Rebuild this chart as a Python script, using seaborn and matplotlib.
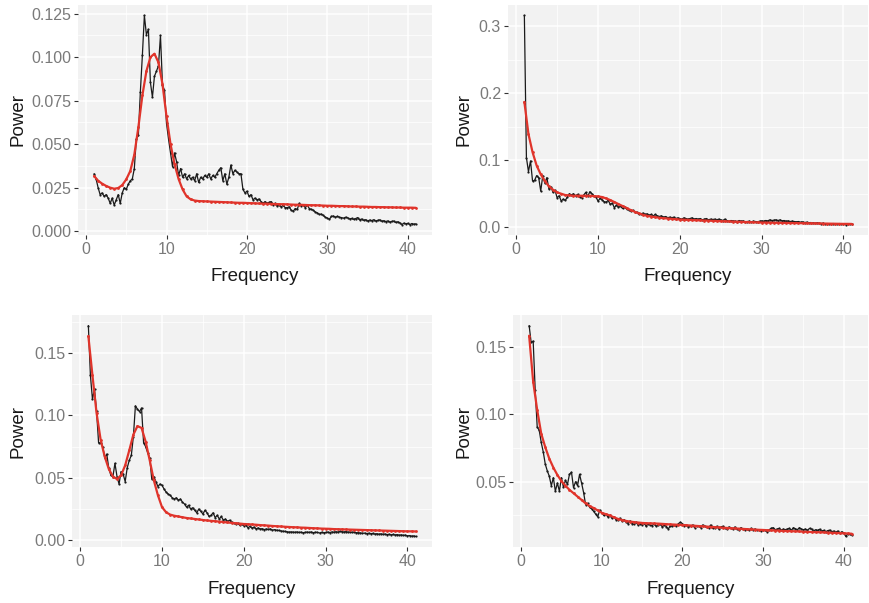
import numpy as np
import matplotlib
matplotlib.use("Agg")
import matplotlib.pyplot as plt
import seaborn as sns
from matplotlib.ticker import FixedLocator, FormatStrFormatter

# ---------------- data ----------------
freq_fine = np.linspace(1, 41, 161)   # 0.25 Hz grid (observed spectrum)
freq_fit = np.linspace(1, 41, 81)     # 0.5 Hz grid (model fit)

tl_black = [
    0.033, 0.030, 0.025, 0.021, 0.022, 0.020, 0.021, 0.019,
    0.016, 0.019, 0.015, 0.018, 0.021, 0.016, 0.022, 0.025,
    0.024, 0.027, 0.029, 0.030, 0.036, 0.053, 0.055, 0.080,
    0.101, 0.124, 0.113, 0.116, 0.0855, 0.077, 0.089, 0.092,
    0.095, 0.1125, 0.084, 0.081, 0.062, 0.053, 0.045, 0.037,
    0.045, 0.040, 0.032, 0.036, 0.031, 0.033, 0.030, 0.032,
    0.030, 0.031, 0.029, 0.033, 0.028, 0.031, 0.030, 0.032,
    0.031, 0.033, 0.030, 0.032, 0.031, 0.033, 0.035, 0.0365,
    0.029, 0.033, 0.027, 0.031, 0.038, 0.033, 0.035, 0.034,
    0.033, 0.033, 0.024, 0.022, 0.023, 0.020, 0.021, 0.018,
    0.019, 0.018, 0.0185, 0.017, 0.016, 0.017, 0.016, 0.0165,
    0.017, 0.015, 0.016, 0.0145, 0.015, 0.014, 0.0148, 0.0135,
    0.0135, 0.014, 0.012, 0.0115, 0.013, 0.0125, 0.016, 0.0145,
    0.015, 0.0135, 0.015, 0.013, 0.0125, 0.012, 0.011, 0.0105,
    0.0096, 0.0098, 0.009, 0.008, 0.0075, 0.0068, 0.0085, 0.0087,
    0.008, 0.0085, 0.008, 0.0078, 0.0075, 0.008, 0.0077, 0.007,
    0.0073, 0.0068, 0.0072, 0.0078, 0.0065, 0.007, 0.0062, 0.0066,
    0.0058, 0.0064, 0.006, 0.0066, 0.0058, 0.0062, 0.0065, 0.0057,
    0.006, 0.0055, 0.0059, 0.0052, 0.0056, 0.0058, 0.005, 0.0054,
    0.0048, 0.0038, 0.0046, 0.0042, 0.0045, 0.0038, 0.0044, 0.004,
    0.0042,
]
tl_red = [
    0.0317, 0.029, 0.0273, 0.026, 0.025, 0.0244, 0.0248, 0.0265,
    0.0298, 0.0346, 0.044, 0.0596, 0.078, 0.092, 0.100, 0.102,
    0.097, 0.0846, 0.066, 0.050, 0.0385, 0.030, 0.024, 0.020,
    0.0183, 0.0176, 0.0173, 0.0172, 0.0171, 0.0170, 0.0169, 0.0168,
    0.0167, 0.0166, 0.0165, 0.0164, 0.0163, 0.0163, 0.0162, 0.0161,
    0.0160, 0.0159, 0.0158, 0.0158, 0.0157, 0.0156, 0.0155, 0.0155,
    0.0154, 0.0153, 0.0152, 0.0152, 0.0151, 0.0150, 0.0149, 0.0149,
    0.0148, 0.0147, 0.0146, 0.0146, 0.0145, 0.0144, 0.0144, 0.0143,
    0.0142, 0.0142, 0.0141, 0.0141, 0.0140, 0.0139, 0.0139, 0.0138,
    0.0138, 0.0137, 0.0137, 0.0136, 0.0136, 0.0135, 0.0135, 0.0135,
    0.0134,
]

tr_black = [
    0.316, 0.104, 0.083, 0.099, 0.069, 0.070, 0.077, 0.074,
    0.054, 0.077, 0.066, 0.074, 0.057, 0.060, 0.052, 0.055,
    0.044, 0.047, 0.039, 0.042, 0.040, 0.045, 0.050, 0.048,
    0.050, 0.047, 0.049, 0.045, 0.044, 0.048, 0.052, 0.046,
    0.053, 0.050, 0.047, 0.045, 0.039, 0.043, 0.041, 0.038,
    0.0376, 0.040, 0.034, 0.036, 0.029, 0.033, 0.030, 0.031,
    0.028, 0.030, 0.027, 0.026, 0.024, 0.025, 0.023, 0.022,
    0.019, 0.020, 0.021, 0.019, 0.020, 0.018, 0.019, 0.017,
    0.019, 0.017, 0.016, 0.017, 0.015, 0.016, 0.014, 0.015,
    0.014, 0.015, 0.013, 0.014, 0.013, 0.012, 0.014, 0.013,
    0.012, 0.013, 0.014, 0.012, 0.013, 0.012, 0.013, 0.011,
    0.012, 0.013, 0.011, 0.012, 0.0115, 0.012, 0.011, 0.012,
    0.011, 0.010, 0.012, 0.010, 0.009, 0.010, 0.0095, 0.009,
    0.0085, 0.010, 0.009, 0.0095, 0.008, 0.0085, 0.009, 0.008,
    0.009, 0.0085, 0.008, 0.009, 0.0095, 0.009, 0.010, 0.0095,
    0.011, 0.010, 0.0105, 0.011, 0.010, 0.011, 0.0095, 0.010,
    0.009, 0.0095, 0.0085, 0.009, 0.0085, 0.008, 0.0085, 0.0075,
    0.008, 0.007, 0.0075, 0.0065, 0.007, 0.0065, 0.006, 0.0065,
    0.006, 0.0055, 0.006, 0.005, 0.0055, 0.0045, 0.005, 0.0055,
    0.005, 0.0045, 0.0055, 0.0048, 0.0045, 0.004, 0.005, 0.0045,
    0.0042,
]
tr_red = [
    0.187, 0.139, 0.112, 0.092, 0.079, 0.069, 0.061, 0.056,
    0.052, 0.050, 0.048, 0.0475, 0.047, 0.047, 0.047, 0.047,
    0.047, 0.0465, 0.046, 0.045, 0.043, 0.0405, 0.0376, 0.0346,
    0.0316, 0.0286, 0.0256, 0.023, 0.0206, 0.0186, 0.017, 0.016,
    0.015, 0.0142, 0.0135, 0.013, 0.0125, 0.012, 0.0115, 0.0112,
    0.011, 0.0107, 0.0104, 0.0102, 0.010, 0.0098, 0.0095, 0.0093,
    0.009, 0.0088, 0.0086, 0.0084, 0.0082, 0.0080, 0.0078, 0.0076,
    0.0074, 0.0072, 0.0070, 0.0069, 0.0068, 0.0067, 0.0066, 0.0065,
    0.0064, 0.0063, 0.0062, 0.0061, 0.0060, 0.0059, 0.0058, 0.0057,
    0.0056, 0.0055, 0.0054, 0.0053, 0.0052, 0.0051, 0.0050, 0.0050,
    0.0049,
]

bl_black = [
    0.172, 0.132, 0.113, 0.121, 0.1035, 0.078, 0.078, 0.075,
    0.066, 0.069, 0.0575, 0.052, 0.051, 0.0616, 0.051, 0.045,
    0.055, 0.053, 0.047, 0.058, 0.064, 0.068, 0.083, 0.1076,
    0.105, 0.103, 0.106, 0.078, 0.075, 0.070, 0.066, 0.049,
    0.051, 0.047, 0.043, 0.045, 0.044, 0.041, 0.0386, 0.037,
    0.036, 0.034, 0.033, 0.034, 0.032, 0.033, 0.0305, 0.029,
    0.0265, 0.028, 0.025, 0.026, 0.024, 0.022, 0.025, 0.023,
    0.021, 0.024, 0.022, 0.019, 0.020, 0.022, 0.018, 0.020,
    0.017, 0.019, 0.016, 0.017, 0.015, 0.016, 0.0145, 0.014,
    0.013, 0.0135, 0.012, 0.013, 0.0116, 0.012, 0.010, 0.011,
    0.0097, 0.0105, 0.009, 0.0098, 0.009, 0.0092, 0.0085, 0.009,
    0.0086, 0.009, 0.008, 0.0085, 0.008, 0.0078, 0.0075, 0.0072,
    0.007, 0.0068, 0.0065, 0.0066, 0.0065, 0.0063, 0.0066, 0.0062,
    0.0064, 0.006, 0.0063, 0.0065, 0.0062, 0.0066, 0.006, 0.0064,
    0.0062, 0.0058, 0.0063, 0.006, 0.0062, 0.0065, 0.0061, 0.0066,
    0.0064, 0.0068, 0.0065, 0.007, 0.0068, 0.0066, 0.0069, 0.0064,
    0.0066, 0.0062, 0.0065, 0.006, 0.006, 0.0058, 0.0055, 0.0057,
    0.0053, 0.0056, 0.0052, 0.0054, 0.0049, 0.0052, 0.0048, 0.0051,
    0.0047, 0.0049, 0.0045, 0.0047, 0.0043, 0.0046, 0.0042, 0.0045,
    0.004, 0.0043, 0.0038, 0.0041, 0.0035, 0.0037, 0.0033, 0.0034,
    0.003,
]
bl_red = [
    0.1635, 0.132, 0.102, 0.0805, 0.067, 0.057, 0.051, 0.049,
    0.052, 0.060, 0.072, 0.0846, 0.0914, 0.090, 0.079, 0.064,
    0.048, 0.036, 0.0265, 0.0224, 0.0205, 0.0196, 0.019, 0.0184,
    0.0178, 0.0174, 0.0170, 0.0166, 0.0162, 0.0158, 0.0155, 0.0152,
    0.0149, 0.0146, 0.0142, 0.0139, 0.0136, 0.0133, 0.0130, 0.0128,
    0.0126, 0.0124, 0.0121, 0.0119, 0.0117, 0.0114, 0.0112, 0.0110,
    0.0108, 0.0106, 0.0104, 0.0103, 0.0101, 0.0100, 0.0098, 0.0096,
    0.0095, 0.0093, 0.0092, 0.0091, 0.0089, 0.0088, 0.0087, 0.0086,
    0.0085, 0.0084, 0.0083, 0.0082, 0.0081, 0.0080, 0.0079, 0.0078,
    0.0077, 0.0076, 0.0075, 0.0074, 0.0073, 0.0072, 0.0071, 0.0071,
    0.0070,
]

br_black = [
    0.1655, 0.153, 0.154, 0.118, 0.0905, 0.088, 0.079, 0.072,
    0.063, 0.058, 0.054, 0.047, 0.053, 0.043, 0.049, 0.043,
    0.053, 0.046, 0.051, 0.048, 0.0555, 0.057, 0.0455, 0.050,
    0.047, 0.0555, 0.049, 0.042, 0.033, 0.034, 0.031, 0.030,
    0.028, 0.026, 0.024, 0.029, 0.027, 0.025, 0.026, 0.024,
    0.025, 0.023, 0.024, 0.022, 0.022, 0.023, 0.021, 0.022,
    0.0205, 0.019, 0.021, 0.019, 0.0185, 0.020, 0.018, 0.019,
    0.018, 0.0195, 0.017, 0.019, 0.018, 0.0175, 0.019, 0.017,
    0.018, 0.019, 0.0165, 0.018, 0.0168, 0.015, 0.0175, 0.017,
    0.018, 0.017, 0.019, 0.020, 0.019, 0.017, 0.018, 0.0165,
    0.017, 0.018, 0.016, 0.0175, 0.017, 0.016, 0.018, 0.017,
    0.0165, 0.016, 0.018, 0.0155, 0.016, 0.017, 0.015, 0.0165,
    0.017, 0.016, 0.015, 0.0165, 0.016, 0.015, 0.0165, 0.015,
    0.0145, 0.016, 0.015, 0.0145, 0.015, 0.014, 0.0155, 0.0145,
    0.015, 0.014, 0.0145, 0.0135, 0.0143, 0.014, 0.013, 0.0145,
    0.0155, 0.016, 0.0145, 0.015, 0.0155, 0.014, 0.015, 0.0145,
    0.015, 0.0155, 0.014, 0.016, 0.0152, 0.0145, 0.016, 0.015,
    0.0145, 0.015, 0.014, 0.0155, 0.015, 0.0135, 0.0145, 0.014,
    0.0148, 0.0135, 0.014, 0.013, 0.0138, 0.0142, 0.013, 0.0135,
    0.0125, 0.0135, 0.012, 0.013, 0.012, 0.0095, 0.0115, 0.011,
    0.0105,
]
br_red = [
    0.158, 0.124, 0.103, 0.0855, 0.0755, 0.067, 0.0605, 0.055,
    0.0505, 0.047, 0.044, 0.0415, 0.039, 0.0365, 0.034, 0.032,
    0.0305, 0.0288, 0.027, 0.026, 0.025, 0.0237, 0.0225, 0.0217,
    0.021, 0.0205, 0.0201, 0.0198, 0.0195, 0.0193, 0.0192, 0.0191,
    0.019, 0.0188, 0.0186, 0.0184, 0.0183, 0.0181, 0.018, 0.0178,
    0.0176, 0.0174, 0.0172, 0.0170, 0.0168, 0.0166, 0.0164, 0.0162,
    0.016, 0.0158, 0.0156, 0.0154, 0.0153, 0.0151, 0.0149, 0.0147,
    0.0146, 0.0144, 0.0143, 0.0141, 0.014, 0.0139, 0.0138, 0.0136,
    0.0135, 0.0134, 0.0133, 0.0132, 0.013, 0.0129, 0.0128, 0.0127,
    0.0126, 0.0125, 0.0124, 0.0122, 0.0121, 0.012, 0.0118, 0.0117,
    0.0115,
]

x_ticks = [0, 10, 20, 30, 40]
tl_yticks = [0.000, 0.025, 0.050, 0.075, 0.100, 0.125]
tr_yticks = [0.0, 0.1, 0.2, 0.3]
bl_yticks = [0.00, 0.05, 0.10, 0.15]
br_yticks = [0.05, 0.10, 0.15]

# ---------------- style ----------------
sns.set_theme(style="darkgrid")
plt.rcParams["font.family"] = ["Liberation Sans", "DejaVu Sans"]

PANEL_BG = "#F2F2F2"
BLACK = "#1a1a1a"
RED = "#E0342B"
TICK_COLOR = "#7a7a7a"

fig = plt.figure(figsize=(8.69, 6.03), dpi=100)
fig.patch.set_facecolor("white")

W, H = 869.0, 603.0
# panel boxes in pixels: (left, top, right, bottom), xlabel top px, ylabel right px
panels = [
    ((78, 5, 432, 235), 268, 26, tl_black, tl_red, tl_yticks, "%.3f"),
    ((508, 5, 868, 235), 268, 472, tr_black, tr_red, tr_yticks, "%.1f"),
    ((72, 315, 432, 547), 581, 26, bl_black, bl_red, bl_yticks, "%.2f"),
    ((513, 315, 868, 547), 581, 472, br_black, br_red, br_yticks, "%.2f"),
]

for (l, t, r, b), xl_top, yl_right, blk, red, yt, fmt in panels:
    ax = fig.add_axes([l / W, (H - b) / H, (r - l) / W, (b - t) / H])
    ax.set_facecolor(PANEL_BG)
    sns.lineplot(x=freq_fine, y=blk, ax=ax, color=BLACK, linewidth=0.9,
                 marker="o", markersize=1.6, markeredgewidth=0, zorder=3)
    sns.lineplot(x=freq_fit, y=red, ax=ax, color=RED, linewidth=1.6,
                 marker="o", markersize=2.0, markeredgewidth=0, zorder=4)
    ymin = min(min(blk), min(red))
    ymax = max(max(blk), max(red))
    pad = (ymax - ymin) * 0.05
    ax.set_ylim(ymin - pad, ymax + pad)
    ax.set_xlim(-1, 43)

    ax.xaxis.set_major_locator(FixedLocator(x_ticks))
    ax.xaxis.set_minor_locator(FixedLocator([5, 15, 25, 35]))
    ax.yaxis.set_major_locator(FixedLocator(yt))
    step = yt[1] - yt[0]
    ax.yaxis.set_minor_locator(FixedLocator([v + step / 2 for v in [yt[0] - step] + yt]))
    ax.yaxis.set_major_formatter(FormatStrFormatter(fmt))

    ax.grid(which="major", color="white", linewidth=1.1)
    ax.grid(which="minor", color="white", linewidth=0.55)
    for s in ax.spines.values():
        s.set_visible(False)
    ax.tick_params(which="major", length=3, width=0.8, color="#333333",
                   labelsize=11.5, labelcolor=TICK_COLOR, pad=2)
    ax.tick_params(which="minor", length=0)
    ax.tick_params(axis="x", bottom=True)
    ax.tick_params(axis="y", left=True)

    ax.set_xlabel("Frequency", fontsize=13.5, color="#1a1a1a")
    ax.set_ylabel("Power", fontsize=13.5, color="#1a1a1a")
    ax.xaxis.set_label_coords(0.5, (b - xl_top) / (b - t))
    ax.yaxis.set_label_coords((yl_right - l) / (r - l), 0.5)

fig.savefig("out.png", dpi=100, facecolor="white")
